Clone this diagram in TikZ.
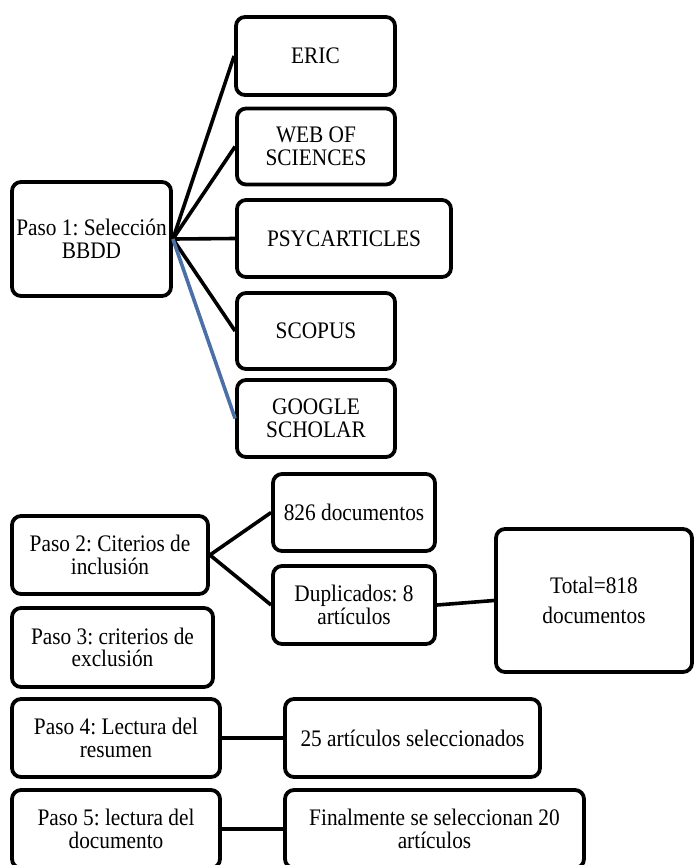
\documentclass[tikz,border=0pt]{standalone}
\usepackage{fontspec}
\setmainfont[FakeStretch=0.9]{Liberation Serif}
\definecolor{linkblue}{RGB}{74,112,165}
\begin{document}
\frenchspacing
\begin{tikzpicture}[x=1pt,y=-1pt,
  box/.style={draw=black, line width=3.8pt, rounded corners=9pt, align=center,
    inner sep=0pt, font=\fontsize{23.7}{22.5}\selectfont, fill=white},
  link/.style={draw=black, line width=3.6pt},
  bluelink/.style={draw=linkblue, line width=3.6pt}]
\useasboundingbox (0,0) rectangle (696,865);
% top section
\node[box, minimum width=159pt, minimum height=114pt] (paso1) at (91.5,239) {Paso 1: Selección\\BBDD};
\node[box, minimum width=159pt, minimum height=78pt] (eric) at (315.5,56) {ERIC};
\node[box, minimum width=158pt, minimum height=76pt] (web) at (316,146.5) {WEB OF\\SCIENCES};
\node[box, minimum width=214pt, minimum height=77pt] (psy) at (344,238.5) {PSYCARTICLES};
\node[box, minimum width=158pt, minimum height=76pt] (scopus) at (316,331) {SCOPUS};
\node[box, minimum width=158pt, minimum height=77pt] (google) at (316,418.5) {GOOGLE\\SCHOLAR};
\draw[link] (paso1.east) -- (eric.west);
\draw[link] (paso1.east) -- (web.west);
\draw[link] (paso1.east) -- (psy.west);
\draw[link] (paso1.east) -- (scopus.west);
\draw[bluelink] (paso1.east) -- (google.west);
% bottom section
\node[box, minimum width=196pt, minimum height=78pt] (paso2) at (110,555) {Paso 2: Citerios de\\inclusión};
\node[box, minimum width=162pt, minimum height=77pt] (c826) at (354,512.5) {826 documentos};
\node[box, minimum width=162pt, minimum height=78pt] (dup) at (354,605) {Duplicados: 8\\artículos};
\node[box, minimum width=196pt, minimum height=143pt, font=\fontsize{23.7}{30}\selectfont] (total) at (594,600.5) {Total=818\\documentos};
\node[box, minimum width=201pt, minimum height=79pt] (paso3) at (112.5,647.5) {Paso 3: criterios de\\exclusión};
\node[box, minimum width=208pt, minimum height=78pt] (paso4) at (116,738) {Paso 4: Lectura del\\resumen};
\node[box, minimum width=255pt, minimum height=78pt] (c25) at (412.5,738) {25 artículos seleccionados};
\node[box, minimum width=208pt, minimum height=78pt] (paso5) at (116,829) {Paso 5: lectura del\\documento};
\node[box, minimum width=299pt, minimum height=78pt] (fin) at (434.5,829) {Finalmente se seleccionan 20\\artículos};
\draw[link] (paso2.east) -- (c826.west);
\draw[link] (paso2.east) -- (dup.west);
\draw[link] (dup.east) -- (total.west);
\draw[link] (paso4.east) -- (c25.west);
\draw[link] (paso5.east) -- (fin.west);
\end{tikzpicture}
\end{document}
